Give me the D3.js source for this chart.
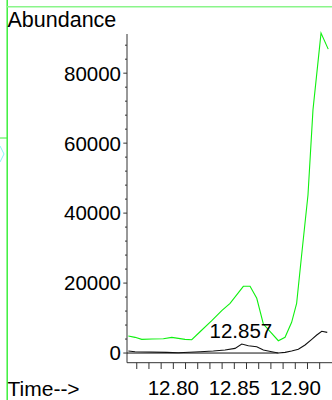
<!DOCTYPE html>
<html>
<head>
<meta charset="utf-8">
<script src="https://cdn.jsdelivr.net/npm/d3@7"></script>
<style>
  html, body { margin: 0; padding: 0; background: #fff; }
  svg { display: block; }
  text { font-family: "Liberation Sans", Arial, sans-serif; fill: #000; }
</style>
</head>
<body>
<svg id="chart" width="332" height="400"></svg>
<script>
// ---- data ----
const ticTime = [12.7631, 12.7686, 12.7741, 12.7825, 12.7918, 12.7987, 12.8096, 12.8151, 12.8219, 12.8315, 12.8397, 12.8465, 12.8574, 12.8629, 12.8684, 12.8738, 12.8861, 12.8916, 12.8970, 12.9011, 12.9052, 12.9104, 12.9145, 12.9211, 12.9270];
const ticAbund = [4860, 4490, 3920, 4000, 4090, 4490, 3920, 3800, 6090, 9240, 12100, 14220, 19080, 19080, 15650, 8300, 3520, 4490, 8780, 14220, 28030, 45190, 69510, 91450, 86870];

const ionTime = [12.7631, 12.7686, 12.7946, 12.8041, 12.8219, 12.8328, 12.8424, 12.8506, 12.8561, 12.8615, 12.8684, 12.8738, 12.8807, 12.8861, 12.8916, 12.8970, 12.9025, 12.9080, 12.9135, 12.9176, 12.9217, 12.9262];
const ionAbund = [570, 370, 200, 90, 370, 570, 860, 1340, 2570, 2090, 1800, 860, 370, 0, 200, 570, 1060, 2290, 3920, 5150, 6210, 5920];

const baselineTime = [12.762, 12.8861];
const baselineAbund = [0, 0];

const peakLabel = "12.857";
const peakTime = 12.857;
const peakAbund = 2570;

const xTickLabels = ["12.80", "12.85", "12.90"];
const yTickLabels = ["0", "20000", "40000", "60000", "80000"];
const yAxisTitle = "Abundance";
const xAxisTitle = "Time-->";

// ---- scales ----
const svg = d3.select("#chart");
const x = d3.scaleLinear().domain([12.7620, 12.9301]).range([127, 332]);
const y = d3.scaleLinear().domain([-2760, 91200]).range([362.7, 34]);

// frame lines (green window edges)
svg.append("line").attr("x1", 7.2).attr("x2", 7.2).attr("y1", 0).attr("y2", 400)
  .attr("stroke", "#3cf03c").attr("stroke-width", 1.5);
svg.append("line").attr("x1", 7).attr("x2", 332).attr("y1", 6.7).attr("y2", 6.7)
  .attr("stroke", "#8af58a").attr("stroke-width", 1.5);
svg.append("line").attr("x1", 0).attr("x2", 7).attr("y1", 138).attr("y2", 138)
  .attr("stroke", "#3cf03c").attr("stroke-width", 1);
svg.append("path").attr("d", "M0,146 L4,154 L0,162").attr("fill", "none")
  .attr("stroke", "#88f4f4").attr("stroke-width", 1);

// ---- axes ----
const axisColor = "#333";
const yMajor = yTickLabels.map(Number);
const yMinor = d3.range(4000, 91200, 4000).filter(v => v % 20000 !== 0);
const yAxisG = svg.append("g");
yAxisG.append("line").attr("x1", 127).attr("x2", 127).attr("y1", y.range()[1]).attr("y2", y.range()[0])
  .attr("stroke", axisColor).attr("stroke-width", 1);
yAxisG.selectAll(".ymaj").data(yMajor).join("line")
  .attr("x1", 123.3).attr("x2", 127).attr("y1", d => y(d)).attr("y2", d => y(d))
  .attr("stroke", axisColor);
yAxisG.selectAll(".ymin").data(yMinor).join("line").attr("class", "ymin")
  .attr("x1", 125).attr("x2", 127).attr("y1", d => y(d)).attr("y2", d => y(d))
  .attr("stroke", axisColor);
yAxisG.selectAll(".ylab").data(yTickLabels).join("text").attr("class", "ylab")
  .attr("x", 121).attr("y", d => y(+d)).attr("dy", "0.36em")
  .attr("text-anchor", "end").attr("font-size", 20.5).text(d => d);

const xMinor = d3.range(12.77, 12.925, 0.01);
const xAxisG = svg.append("g");
xAxisG.append("line").attr("x1", 127).attr("x2", 332).attr("y1", 362.7).attr("y2", 362.7)
  .attr("stroke", axisColor);
xAxisG.selectAll(".xt").data(xMinor).join("line").attr("class", "xt")
  .attr("x1", d => x(d)).attr("x2", d => x(d)).attr("y1", 362.7).attr("y2", 369)
  .attr("stroke", axisColor);
xAxisG.selectAll(".xlab").data(xTickLabels).join("text").attr("class", "xlab")
  .attr("x", d => x(+d)).attr("y", 395).attr("text-anchor", "middle")
  .attr("font-size", 20.5).text(d => d);

svg.append("text").attr("x", 7.5).attr("y", 26.7).attr("font-size", 21.5).text(yAxisTitle);
svg.append("text").attr("x", 7.5).attr("y", 395.5).attr("font-size", 21).text(xAxisTitle);

// ---- traces ----
const line = d3.line().x(d => x(d[0])).y(d => y(d[1]));
svg.append("path").datum(baselineTime.map((t, i) => [t, baselineAbund[i]]))
  .attr("d", line).attr("fill", "none").attr("stroke", "#111").attr("stroke-width", 1);
svg.append("path").datum(ticTime.map((t, i) => [t, ticAbund[i]]))
  .attr("d", line).attr("fill", "none").attr("stroke", "#10f010").attr("stroke-width", 1.1);
svg.append("path").datum(ionTime.map((t, i) => [t, ionAbund[i]]))
  .attr("d", line).attr("fill", "none").attr("stroke", "#111").attr("stroke-width", 1.1);

svg.append("text").attr("x", x(peakTime) - 2).attr("y", y(peakAbund) - 6)
  .attr("text-anchor", "middle").attr("font-size", 20.5).text(peakLabel);
</script>
</body>
</html>
